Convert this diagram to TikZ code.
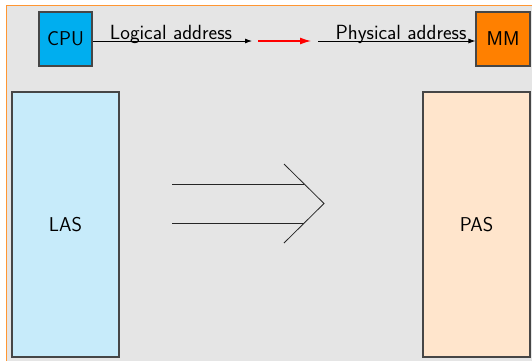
\documentclass[tikz,border=0pt]{standalone}
\usepackage{tikz}
\usetikzlibrary{arrows.meta}
\definecolor{bggray}{RGB}{229,229,229}
\definecolor{frameorange}{RGB}{255,150,50}
\definecolor{cpucyan}{RGB}{0,174,239}
\definecolor{mmorange}{RGB}{255,128,0}
\definecolor{lightcyan}{RGB}{199,235,250}
\definecolor{lightorange}{RGB}{255,229,204}
\definecolor{boxedge}{RGB}{70,70,70}
\begin{document}
\begin{tikzpicture}[x=1pt,y=-1pt,
  box/.style={draw=boxedge,line width=1.1pt,inner sep=0pt,font=\sffamily\fontsize{20}{24}\selectfont},
  lbl/.style={font=\sffamily\fontsize{20.5}{24}\selectfont,inner sep=0pt,anchor=base},
  conn/.style={line width=0.8pt,-{Latex[length=7pt,width=5pt]}},
  redconn/.style={red,line width=1.2pt,-{Latex[length=11pt,width=7pt]}},
  bigarrow/.style={black!85,line width=0.8pt}]
\useasboundingbox (0,0) rectangle (532,360);
\fill[bggray] (6.5,5.5) rectangle (540,370);
\draw[frameorange,line width=1.2pt] (6.5,370) -- (6.5,5.5) -- (540,5.5);

\node[box,fill=cpucyan,minimum width=53pt,minimum height=54pt] (cpu) at (65.5,39) {CPU};
\node[box,fill=mmorange,minimum width=54pt,minimum height=54pt] (mm) at (503,39) {MM};

\coordinate (l1) at (252,41);
\coordinate (r0) at (258,41);
\coordinate (r1) at (311,41);
\coordinate (p0) at (318,41);

\draw[conn] ([yshift=-2pt]cpu.east) -- (l1);
\draw[redconn] (r0) -- (r1);
\draw[conn] (p0) -- ([yshift=-2pt]mm.west);

\node[lbl] (la) at (171,39.5) {Logical address};
\node[lbl] (pa) at (401,39) {Physical address};

\node[box,fill=lightcyan,minimum width=107pt,minimum height=265pt] (las) at (65.5,224.5) {LAS};
\node[box,fill=lightorange,minimum width=107pt,minimum height=265pt] (pas) at (476.5,224.5) {PAS};

\coordinate (a1s) at (172,184);
\coordinate (a1e) at (304,184);
\coordinate (a2s) at (172,223);
\coordinate (a2e) at (304,223);
\coordinate (ct) at (284,164);
\coordinate (cm) at (324,203.5);
\coordinate (cb) at (284,243);
\draw[bigarrow] (a1s) -- (a1e);
\draw[bigarrow] (a2s) -- (a2e);
\draw[bigarrow] (ct) -- (cm) -- (cb);
\end{tikzpicture}
\end{document}
